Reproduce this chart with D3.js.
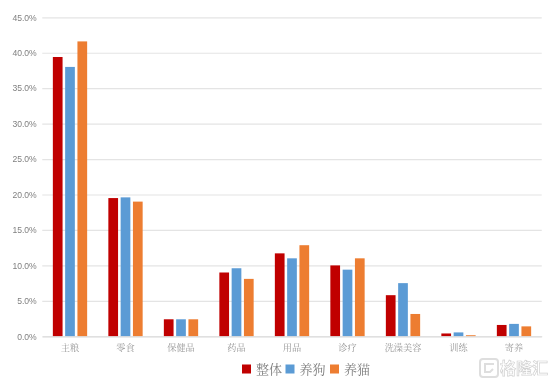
<!DOCTYPE html>
<html>
<head>
<meta charset="utf-8">
<script src="https://cdn.jsdelivr.net/npm/d3@7"></script>
<style>
  html, body { margin: 0; padding: 0; background: #fff; }
  svg { display: block; filter: blur(0.35px); }
</style>
</head>
<body>
<svg id="chart" width="554" height="387"></svg>
<script>
// --- Data ---
const categories = ["主粮", "零食", "保健品", "药品", "用品", "诊疗", "洗澡美容", "训练", "寄养"];
const seriesNames = ["整体", "养狗", "养猫"];
const overall = [39.4, 19.5, 2.4, 9.0, 11.7, 10.0, 5.8, 0.4, 1.6];
const dog = [38.0, 19.6, 2.4, 9.6, 11.0, 9.4, 7.5, 0.55, 1.75];
const cat = [41.6, 19.0, 2.4, 8.1, 12.85, 11.0, 3.15, 0.15, 1.4];
const yTicks = [0, 5, 10, 15, 20, 25, 30, 35, 40, 45];
const colors = ["#c00000", "#5b9bd5", "#ed7d31"];

const svg = d3.select("#chart");
const plot = { left: 42.25, right: 541.75, top: 17.3, bottom: 336.3 };
const serifCn = "'Noto Serif CJK SC', 'Noto Sans CJK SC', serif";

// --- Scales ---
const x = d3.scaleBand().domain(categories).range([plot.left, plot.right]);
const xSeries = d3.scaleBand().domain(seriesNames)
    .range([-17.15, 17.15]).paddingInner(0.21).paddingOuter(0);
const y = d3.scaleLinear().domain([0, 45]).range([plot.bottom, plot.top]);

// --- Grid + y axis ---
const yAxis = d3.axisLeft(y).tickValues(yTicks)
    .tickSize(plot.left - plot.right)
    .tickPadding(5.5)
    .tickFormat(d => d.toFixed(1) + "%");

const yG = svg.append("g")
    .attr("transform", `translate(${plot.left},0)`)
    .call(yAxis);
yG.select(".domain").remove();
yG.selectAll("line").attr("stroke", "#e4e4e4").attr("stroke-width", 1.2);
yG.selectAll("text")
    .attr("fill", "#808080")
    .style("font-family", "'Liberation Sans', sans-serif")
    .style("font-size", "8.6px");

// --- Bars ---
const seriesValues = [overall, dog, cat];
seriesNames.forEach((name, i) => {
    svg.append("g")
        .attr("class", "series")
        .selectAll("rect")
        .data(seriesValues[i])
        .join("rect")
        .attr("x", (d, j) => x(categories[j]) + x.bandwidth() / 2 + xSeries(name))
        .attr("width", xSeries.bandwidth())
        .attr("y", d => y(d))
        .attr("height", d => y(0) - y(d))
        .attr("fill", colors[i]);
});

// --- X axis ---
const xAxis = d3.axisBottom(x).tickSize(0).tickPadding(8.5);
const xG = svg.append("g")
    .attr("transform", `translate(0,${plot.bottom})`)
    .call(xAxis);
xG.select(".domain").attr("stroke", "#dcdcdc").attr("stroke-width", 1);
xG.selectAll("text")
    .attr("fill", "#989898")
    .style("font-family", serifCn)
    .style("font-size", "9.2px");

// --- Legend ---
const legendX = [242, 285.5, 330];
const legend = svg.append("g").selectAll("g")
    .data(seriesNames)
    .join("g")
    .attr("transform", (d, i) => `translate(${legendX[i]},372.5)`);
legend.append("rect")
    .attr("y", -8).attr("width", 9).attr("height", 9)
    .attr("fill", (d, i) => colors[i]);
legend.append("text")
    .attr("x", 14).attr("y", 1.5)
    .attr("fill", "#7f7f7f")
    .style("font-family", serifCn)
    .style("font-size", "13px")
    .text(d => d);

// --- Watermark ---
const mark = svg.append("g").attr("transform", "translate(480,359)");
mark.append("rect")
    .attr("x", 0).attr("y", 0).attr("width", 18).attr("height", 18).attr("rx", 3)
    .attr("fill", "none").attr("stroke", "#dedede").attr("stroke-width", 2);
mark.append("path")
    .attr("d", "M14,5H5V13H10L13,10")
    .attr("fill", "none").attr("stroke", "#dedede").attr("stroke-width", 2);
mark.append("text")
    .attr("x", 20).attr("y", 15)
    .attr("fill", "#fff").attr("stroke", "#d2d2d2").attr("stroke-width", 0.7)
    .style("font-family", "'Noto Sans CJK SC', sans-serif")
    .style("font-size", "16px")
    .style("font-weight", "700")
    .text("格隆汇");
</script>
</body>
</html>
